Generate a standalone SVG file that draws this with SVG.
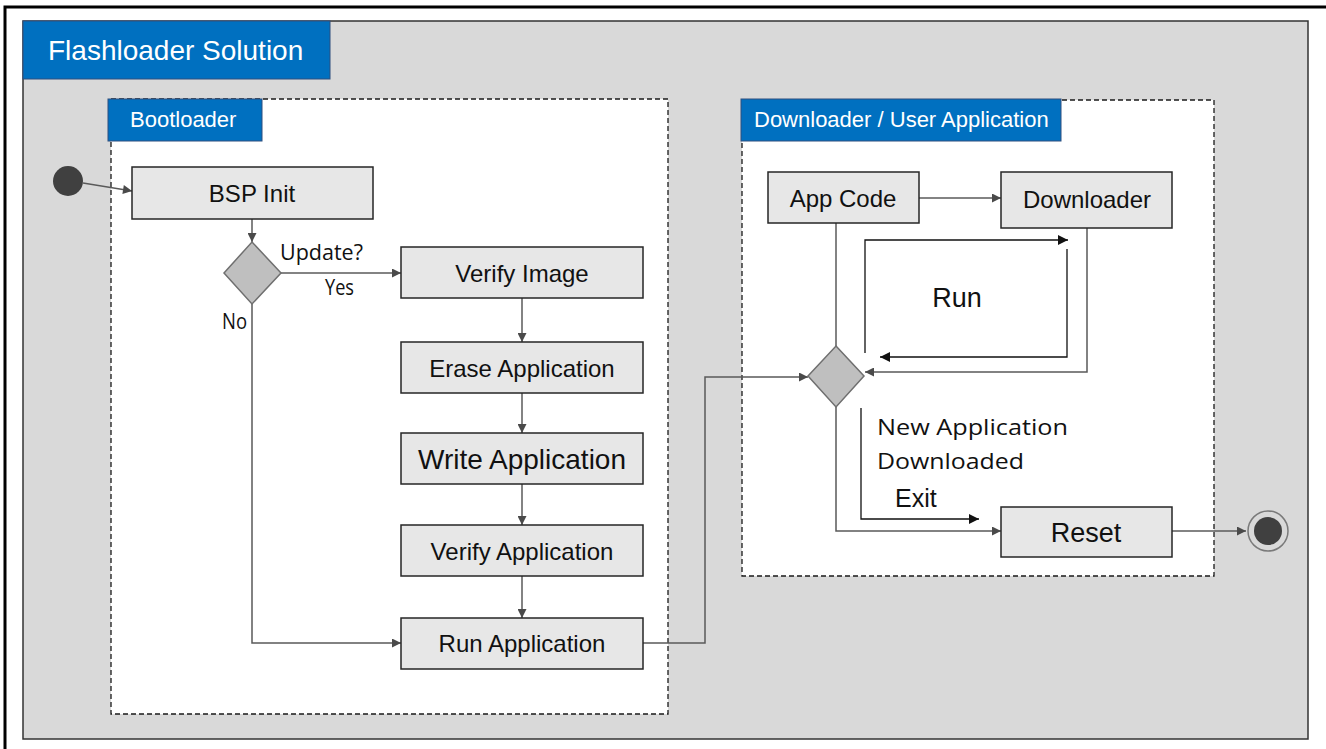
<svg xmlns="http://www.w3.org/2000/svg" width="1326" height="749" viewBox="0 0 1326 749">
<defs>
<style>
.box{fill:#e7e7e7;stroke:#262626;stroke-width:1.5}
.lbl{font-family:"Liberation Sans",Arial,sans-serif;fill:#111;text-anchor:middle}
.hdr{font-family:"Liberation Sans",Arial,sans-serif;fill:#fff}
.cal{font-family:"Open Sans","Noto Sans",sans-serif;fill:#111;font-size:21px}
.blue{fill:#0070c0;stroke:#2f4f7f;stroke-width:1}
.dash{fill:#fff;stroke:#1a1a1a;stroke-width:1.3;stroke-dasharray:5 3}
.con{fill:none;stroke:#5a5a5a;stroke-width:1.5}
.blk{fill:none;stroke:#111;stroke-width:1.3}
.dia{fill:#bfbfbf;stroke:#6f6f6f;stroke-width:1.5}
</style>
<marker id="ag" viewBox="0 0 10 10" refX="10" refY="5" markerWidth="11" markerHeight="9" markerUnits="userSpaceOnUse" orient="auto"><path d="M0,0 L10,5 L0,10 z" fill="#4a4a4a"/></marker>
<marker id="ab" viewBox="0 0 10 10" refX="10" refY="5" markerWidth="13" markerHeight="10" markerUnits="userSpaceOnUse" orient="auto"><path d="M0,0 L10,5 L0,10 z" fill="#111"/></marker>
</defs>
<rect x="0" y="0" width="1326" height="749" fill="#fff"/>
<path d="M5,749 V7 H1326" fill="none" stroke="#000" stroke-width="3"/>
<g id="panel">
<rect x="23" y="21" width="1285" height="718" fill="#d9d9d9" stroke="#333" stroke-width="1.5"/>
<rect class="blue" x="23" y="21" width="307" height="58"/>
<text class="hdr" x="48" y="60" font-size="28">Flashloader Solution</text>
</g>
<g id="bootloader-area">
<rect class="dash" x="111" y="99" width="557" height="615"/>
<rect class="blue" x="108" y="99" width="154" height="42"/>
<text class="hdr" x="130" y="127" font-size="22">Bootloader</text>
</g>
<g id="downloader-area">
<rect class="dash" x="742" y="100" width="472" height="476"/>
<rect class="blue" x="741" y="99" width="320" height="42"/>
<text class="hdr" x="754" y="127" font-size="22">Downloader / User Application</text>
</g>
<g id="connectors">
<path class="con" d="M83,183 L132,191" marker-end="url(#ag)"/>
<path class="con" d="M252,219 V242" marker-end="url(#ag)"/>
<path class="con" d="M281,273 H401" marker-end="url(#ag)"/>
<path class="con" d="M252,304 V643 H401" marker-end="url(#ag)"/>
<path class="con" d="M522,298 V342" marker-end="url(#ag)"/>
<path class="con" d="M522,393 V433" marker-end="url(#ag)"/>
<path class="con" d="M522,484 V525" marker-end="url(#ag)"/>
<path class="con" d="M522,576 V618" marker-end="url(#ag)"/>
<path class="con" d="M643,643 H705 V377 H808" marker-end="url(#ag)"/>
<path class="con" d="M919,198 H1001" marker-end="url(#ag)"/>
<path class="con" d="M836,223 V346"/>
<path class="blk" d="M865,353 V240 H1068" marker-end="url(#ab)"/>
<path class="blk" d="M1067,249 V357 H880" marker-end="url(#ab)"/>
<path class="con" d="M1087,228 V372 H865" marker-end="url(#ag)"/>
<path class="blk" d="M861,408 V519 H979" marker-end="url(#ab)"/>
<path class="con" d="M836,407 V531 H1001" marker-end="url(#ag)"/>
<path class="con" d="M1172,531 H1246" marker-end="url(#ag)"/>
</g>
<g id="start"><circle cx="68" cy="181" r="15" fill="#404040"/></g>
<g id="bsp-init"><rect class="box" x="132" y="167" width="241" height="52"/><text class="lbl" x="252" y="202" font-size="24">BSP Init</text></g>
<g id="update-decision">
<polygon class="dia" points="252,242 281,273 252,304 224,273"/>
<text class="cal" x="280" y="260" textLength="83" lengthAdjust="spacingAndGlyphs">Update?</text>
<text class="cal" x="325" y="295" font-size="19" textLength="29" lengthAdjust="spacingAndGlyphs">Yes</text>
<text class="cal" x="222" y="329" font-size="19" textLength="25" lengthAdjust="spacingAndGlyphs">No</text>
</g>
<g id="verify-image"><rect class="box" x="401" y="247" width="242" height="51"/><text class="lbl" x="522" y="282" font-size="24">Verify Image</text></g>
<g id="erase-application"><rect class="box" x="401" y="342" width="242" height="51"/><text class="lbl" x="522" y="377" font-size="24">Erase Application</text></g>
<g id="write-application"><rect class="box" x="401" y="433" width="242" height="51"/><text class="lbl" x="522" y="469" font-size="28">Write Application</text></g>
<g id="verify-application"><rect class="box" x="401" y="525" width="242" height="51"/><text class="lbl" x="522" y="560" font-size="24">Verify Application</text></g>
<g id="run-application"><rect class="box" x="401" y="618" width="242" height="51"/><text class="lbl" x="522" y="652" font-size="24">Run Application</text></g>
<g id="app-code"><rect class="box" x="768" y="172" width="151" height="51"/><text class="lbl" x="843" y="207" font-size="24">App Code</text></g>
<g id="downloader"><rect class="box" x="1001" y="172" width="171" height="56"/><text class="lbl" x="1087" y="208" font-size="24">Downloader</text></g>
<g id="run-decision">
<polygon class="dia" points="836,346 864,376 836,407 808,376"/>
<text class="lbl" x="957" y="307" font-size="27">Run</text>
<text class="cal" x="877" y="435" font-size="23" textLength="191" lengthAdjust="spacingAndGlyphs">New Application</text>
<text class="cal" x="877" y="469" font-size="23" textLength="147" lengthAdjust="spacingAndGlyphs">Downloaded</text>
<text class="lbl" x="895" y="507" font-size="25" style="text-anchor:start">Exit</text>
</g>
<g id="reset"><rect class="box" x="1001" y="507" width="171" height="50"/><text class="lbl" x="1086" y="542" font-size="27">Reset</text></g>
<g id="end"><circle cx="1268" cy="531" r="20" fill="none" stroke="#7a7a7a" stroke-width="1.5"/><circle cx="1268" cy="531" r="14" fill="#404040"/></g>
</svg>
